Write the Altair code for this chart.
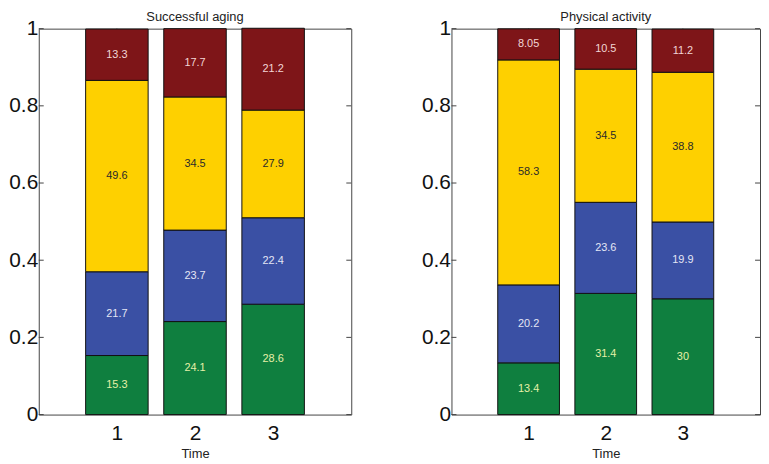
import altair as alt
import pandas as pd

# ---- data (percent of respondents, bottom -> top segments) ----
times = [1, 2, 3]
categories = ["Cat 1", "Cat 2", "Cat 3", "Cat 4"]  # green, blue, yellow, dark red

aging_green = [15.3, 24.1, 28.6]
aging_blue = [21.7, 23.7, 22.4]
aging_yellow = [49.6, 34.5, 27.9]
aging_red = [13.3, 17.7, 21.2]

phys_green = [13.4, 31.4, 30]
phys_blue = [20.2, 23.6, 19.9]
phys_yellow = [58.3, 34.5, 38.8]
phys_red = [8.05, 10.5, 11.2]

y_ticks = [0, 0.2, 0.4, 0.6, 0.8, 1]
x_ticks = [1, 2, 3]

# ---- styles ----
fill_colors = ["#0f7f3f", "#3a50a4", "#fed000", "#7e1518"]
text_colors = ["#e6f0a8", "#e4e6f4", "#2a2a2a", "#f2d6d6"]
FONT = "Liberation Sans"


def build(series):
    rows = []
    for order, (cat, vals) in enumerate(zip(categories, series)):
        for t, v in zip(times, vals):
            rows.append({"time": t, "cat": cat, "order": order, "value": v,
                         "tcolor": text_colors[order]})
    return pd.DataFrame(rows)


aging_df = build([aging_green, aging_blue, aging_yellow, aging_red])
phys_df = build([phys_green, phys_blue, phys_yellow, phys_red])


def panel(df, title, width, height):
    yscale = alt.Scale(domain=[0, 1], nice=False, zero=True)
    xscale = alt.Scale(domain=[0, 4], nice=False, zero=False)
    yaxis = alt.Axis(values=y_ticks, format=".1~f", ticks=False, tickSize=0,
                     domain=False, grid=False, labelFontSize=21, labelFont=FONT,
                     labelColor="#111", labelPadding=1, title=None)
    xaxis = alt.Axis(values=x_ticks, format="d", ticks=False, tickSize=0,
                     domain=False, grid=False, labelFontSize=21, labelFont=FONT,
                     labelColor="#111", labelPadding=8, title="Time",
                     titleFontSize=13, titleFont=FONT, titleFontWeight="normal",
                     titleColor="#222", titlePadding=4)

    base = alt.Chart(df).transform_calculate(
        frac="datum.value / 100"
    ).transform_stack(
        stack="frac", groupby=["time"], as_=["y0", "y1"],
        sort=[alt.SortField("order", order="ascending")]
    ).transform_calculate(
        xa="datum.time - 0.4", xb="datum.time + 0.4", ym="(datum.y0 + datum.y1) / 2"
    )

    bars = base.mark_bar(stroke="#111", strokeWidth=1).encode(
        x=alt.X("xa:Q", scale=xscale, axis=xaxis),
        x2="xb:Q",
        y=alt.Y("y0:Q", scale=yscale, axis=yaxis),
        y2="y1:Q",
        color=alt.Color("cat:N", scale=alt.Scale(domain=categories, range=fill_colors),
                        legend=None),
    )

    labels = base.mark_text(font=FONT, fontSize=11).encode(
        x=alt.X("time:Q", scale=xscale),
        y=alt.Y("ym:Q", scale=yscale),
        text=alt.Text("value:Q", format=".3~g"),
        color=alt.Color("tcolor:N", scale=None),
    )

    ytick_df = pd.DataFrame({"v": y_ticks})
    xtick_df = pd.DataFrame({"t": x_ticks})
    tick_style = dict(color="#444", strokeWidth=1)
    yt_left = alt.Chart(ytick_df).mark_rule(**tick_style).encode(
        y=alt.Y("v:Q", scale=yscale), x=alt.value(0), x2=alt.value(5))
    yt_right = alt.Chart(ytick_df).mark_rule(**tick_style).encode(
        y=alt.Y("v:Q", scale=yscale), x=alt.value(width - 5), x2=alt.value(width))
    xt_bottom = alt.Chart(xtick_df).mark_rule(**tick_style).encode(
        x=alt.X("t:Q", scale=xscale), y=alt.value(height), y2=alt.value(height - 5))
    xt_top = alt.Chart(xtick_df).mark_rule(**tick_style).encode(
        x=alt.X("t:Q", scale=xscale), y=alt.value(0), y2=alt.value(5))

    return alt.layer(yt_left, yt_right, xt_bottom, xt_top, bars, labels).properties(
        width=width, height=height,
        title=alt.TitleParams(title, fontSize=13, font=FONT, fontWeight="normal",
                              color="#222", anchor="middle", offset=-6),
    )


left = panel(aging_df, "Successful aging", 315, 389)
right = panel(phys_df, "Physical activity", 311, 389)

chart = alt.hconcat(left, right, spacing=69).properties(
    padding={"left": 0, "top": 0, "right": 0, "bottom": 0}
).configure_view(stroke="#444", strokeWidth=1).configure_concat(spacing=69)

chart.save("out.html", embed_options={"renderer": "svg", "actions": False})
